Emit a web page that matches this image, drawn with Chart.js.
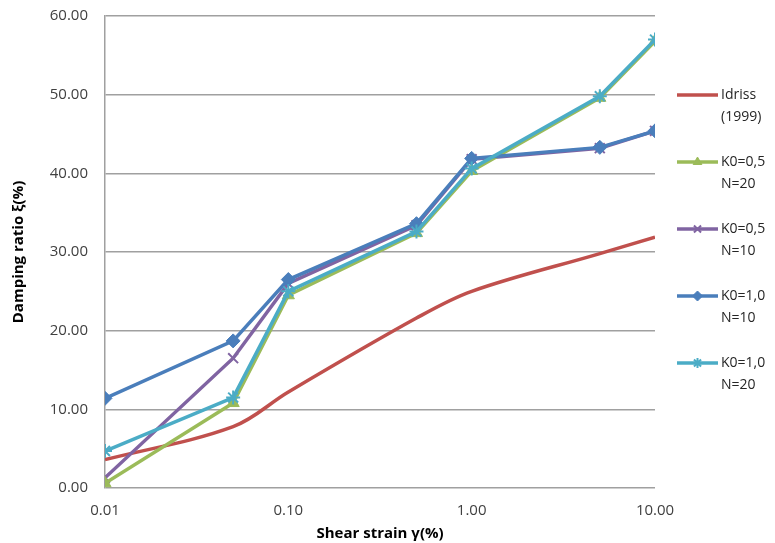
<!DOCTYPE html>
<html>
<head>
<meta charset="utf-8">
<script src="https://cdn.jsdelivr.net/npm/chart.js@4.4.1/dist/chart.umd.min.js"></script>
<style>
  html, body { margin: 0; padding: 0; background: #fff; }
  #wrap { width: 775px; height: 543px; position: relative; }
</style>
</head>
<body>
<div id="wrap"><canvas id="dampingChart"></canvas></div>
<script>
// shear strain (%) where each series was sampled
const strains = [0.01, 0.05, 0.1, 0.5, 1, 5, 10];

const idriss = [3.6, 7.8, 12.2, 21.6, 25.0, 29.8, 31.9];
const k05n20 = [0.6, 10.8, 24.5, 32.4, 40.3, 49.6, 56.8];
const k05n10 = [1.3, 16.5, 26.0, 33.4, 41.8, 43.2, 45.4];
const k10n10 = [11.4, 18.7, 26.5, 33.6, 41.9, 43.3, 45.4];
const k10n20 = [4.7, 11.5, 25.0, 32.6, 40.6, 49.8, 57.0];

const seriesNames = [['Idriss', '(1999)'], ['K0=0,5', 'N=20'], ['K0=0,5', 'N=10'], ['K0=1,0', 'N=10'], ['K0=1,0', 'N=20']];
const xTicks = [0.01, 0.1, 1, 10];
const yTicks = [0, 10, 20, 30, 40, 50, 60];

const FONT = '"Open Sans", sans-serif';

function pts(values) {
    return values.map((v, i) => ({ x: strains[i], y: v }));
}

function series(idx, values, color, style, order) {
    const thin = style === 'crossRot' || style === 'star';
    return {
        label: seriesNames[idx].join(' '),
        data: pts(values),
        borderColor: color,
        backgroundColor: color,
        borderWidth: 3.5,
        pointStyle: style,
        pointRadius: style ? 7 : 0,
        pointBorderWidth: thin ? 2 : 1,
        tension: idx === 0 ? 0.35 : 0,
        order: order
    };
}

// legend drawn at the right side, two lines per entry like the original
const sideLegend = {
    id: 'sideLegend',
    afterDraw(chart) {
        const ctx = chart.ctx;
        const x0 = 677, x1 = 718, tx = 721;
        let y = 95;
        ctx.save();
        chart.data.datasets.forEach((ds, i) => {
            ctx.strokeStyle = ds.borderColor;
            ctx.lineWidth = 3.5;
            ctx.beginPath();
            ctx.moveTo(x0, y);
            ctx.lineTo(x1, y);
            ctx.stroke();
            if (ds.pointRadius) {
                ctx.fillStyle = ds.backgroundColor;
                ctx.strokeStyle = ds.borderColor;
                ctx.lineWidth = ds.pointBorderWidth;
                Chart.helpers.drawPoint(ctx, { pointStyle: ds.pointStyle, radius: 5, borderWidth: ds.pointBorderWidth }, (x0 + x1) / 2, y);
            }
            ctx.fillStyle = '#262626';
            ctx.font = '14px ' + FONT;
            ctx.textBaseline = 'middle';
            ctx.fillText(seriesNames[i][0], tx, y);
            ctx.fillText(seriesNames[i][1], tx, y + 22);
            y += 67;
        });
        ctx.restore();
    }
};

const ctx = document.getElementById('dampingChart').getContext('2d');
const dampingChart = new Chart(ctx, {
    type: 'line',
    data: {
        datasets: [
            series(0, idriss, '#C0504D', false, 5),
            series(1, k05n20, '#9BBB59', 'triangle', 3),
            series(2, k05n10, '#8064A2', 'crossRot', 4),
            series(3, k10n10, '#4A7EBB', 'rectRot', 2),
            series(4, k10n20, '#4BACC6', 'star', 1)
        ]
    },
    options: {
        responsive: true,
        maintainAspectRatio: false,
        animation: false,
        layout: { padding: { top: 16, right: 120, left: 10, bottom: 0 } },
        plugins: {
            legend: { display: false },
            tooltip: { enabled: false }
        },
        scales: {
            x: {
                type: 'logarithmic',
                min: 0.01,
                max: 10,
                afterBuildTicks: (scale) => { scale.ticks = xTicks.map(v => ({ value: v })); },
                afterFit: (scale) => { scale.height = 55; },
                grid: { display: false, drawTicks: false },
                border: { display: false },
                ticks: {
                    color: '#404040',
                    font: { family: FONT, size: 15 },
                    padding: 14,
                    maxRotation: 0,
                    callback: (v) => Number(v).toFixed(2)
                },
                title: {
                    display: true,
                    text: 'Shear strain γ(%)',
                    color: '#000',
                    font: { family: FONT, size: 15, weight: 'bold' },
                    padding: { top: 0, bottom: 0 }
                }
            },
            y: {
                min: 0,
                max: 60,
                afterBuildTicks: (scale) => { scale.ticks = yTicks.map(v => ({ value: v })); },
                afterFit: (scale) => {
                    scale.width = 95;
                    scale.paddingTop = 0;
                    scale.paddingBottom = 0;
                },
                grid: { color: '#A0A0A0', lineWidth: 1.5, drawTicks: false },
                border: { display: true, color: '#A0A0A0', width: 1.5 },
                ticks: {
                    color: '#404040',
                    font: { family: FONT, size: 15 },
                    padding: 17,
                    callback: (v) => Number(v).toFixed(2)
                },
                title: {
                    display: true,
                    text: 'Damping ratio ξ(%)',
                    color: '#000',
                    font: { family: FONT, size: 15, weight: 'bold' },
                    padding: { top: 0, bottom: 0 }
                }
            }
        }
    },
    plugins: [sideLegend]
});
</script>
</body>
</html>
